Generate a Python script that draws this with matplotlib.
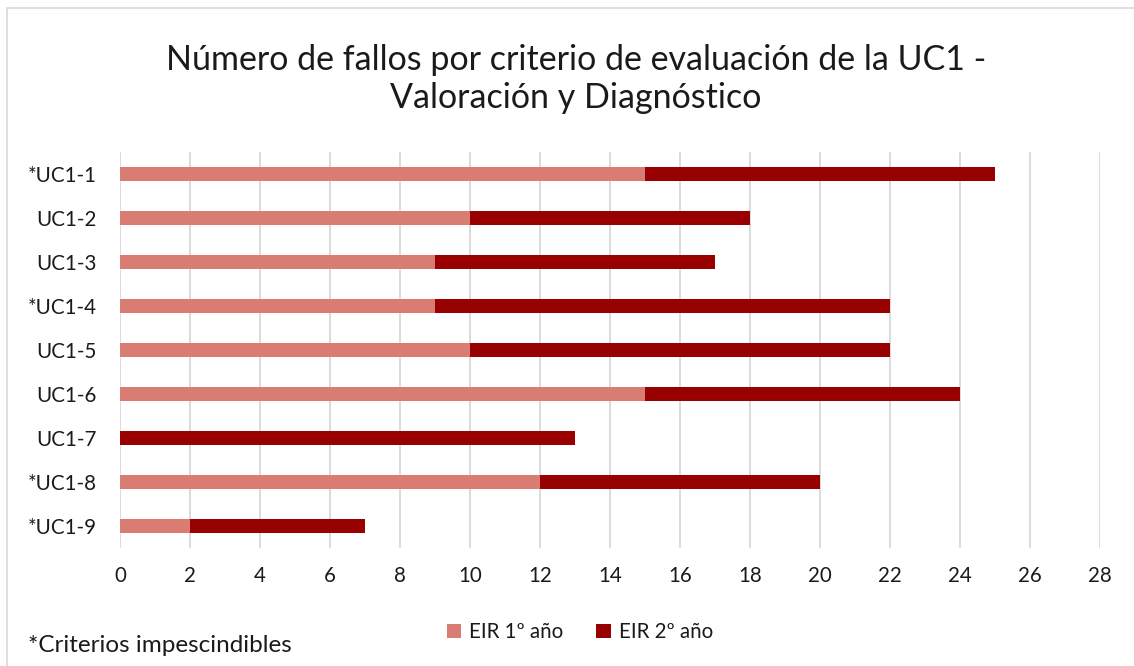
import matplotlib
matplotlib.use("Agg")
import matplotlib.pyplot as plt
from matplotlib.patches import Rectangle

plt.rcParams['font.family'] = ['Lato', 'DejaVu Sans']

categories = ["*UC1-1", "UC1-2", "UC1-3", "*UC1-4", "UC1-5", "UC1-6", "UC1-7", "*UC1-8", "*UC1-9"]
eir1 = [15, 10, 9, 9, 10, 15, 0, 12, 2]
eir2 = [10, 8, 8, 13, 12, 9, 13, 8, 5]
series_names = ["EIR 1º año", "EIR 2º año"]
xticks = list(range(0, 29, 2))

c1 = "#D97C73"
c2 = "#990000"

fig = plt.figure(figsize=(11.34, 6.66), dpi=100)
ax = fig.add_axes([120/1134, 1-548/666, 980/1134, 396/666])

y = list(range(len(categories)))
ax.barh(y, eir1, height=0.32, color=c1, label=series_names[0], zorder=3)
ax.barh(y, eir2, left=eir1, height=0.32, color=c2, label=series_names[1], zorder=3)

ax.set_ylim(len(categories)-0.5, -0.5)
ax.set_xlim(0, 28)
ax.set_yticks(y)
ax.set_yticklabels(categories, fontsize=14.8, color='#1a1a1a')
ax.set_xticks(xticks)
ax.set_xticklabels([str(t) for t in xticks], fontsize=14.8, color='#1a1a1a')
ax.tick_params(length=0)
ax.tick_params(axis='y', pad=17)
ax.tick_params(axis='x', pad=13)
ax.grid(axis='x', color='#D9D9D9', linewidth=1.3, zorder=0)
for s in ax.spines.values():
    s.set_visible(False)

fig.text(576/1134, 1-79/666, "Número de fallos por criterio de evaluación de la UC1 -\nValoración y Diagnóstico",
         ha='center', va='center', fontsize=24.5, color='#1a1a1a', linespacing=1.25)

leg = fig.legend(loc='center', bbox_to_anchor=(580/1134, 1-632/666), ncol=2, frameon=False,
                 fontsize=14.8, handlelength=0.7, handleheight=0.7, columnspacing=1.6, handletextpad=0.4)
for t in leg.get_texts():
    t.set_color('#1a1a1a')

fig.text(28/1134, 1-646/666, "*Criterios impescindibles", ha='left', va='center', fontsize=17.5, color='#1a1a1a')

fig.patches.append(Rectangle((7/1134, -0.1), 1.2, (1-8/666)+0.1, transform=fig.transFigure,
                             fill=False, edgecolor='#D9D9D9', linewidth=1.2))

fig.savefig("out.png", dpi=100)
